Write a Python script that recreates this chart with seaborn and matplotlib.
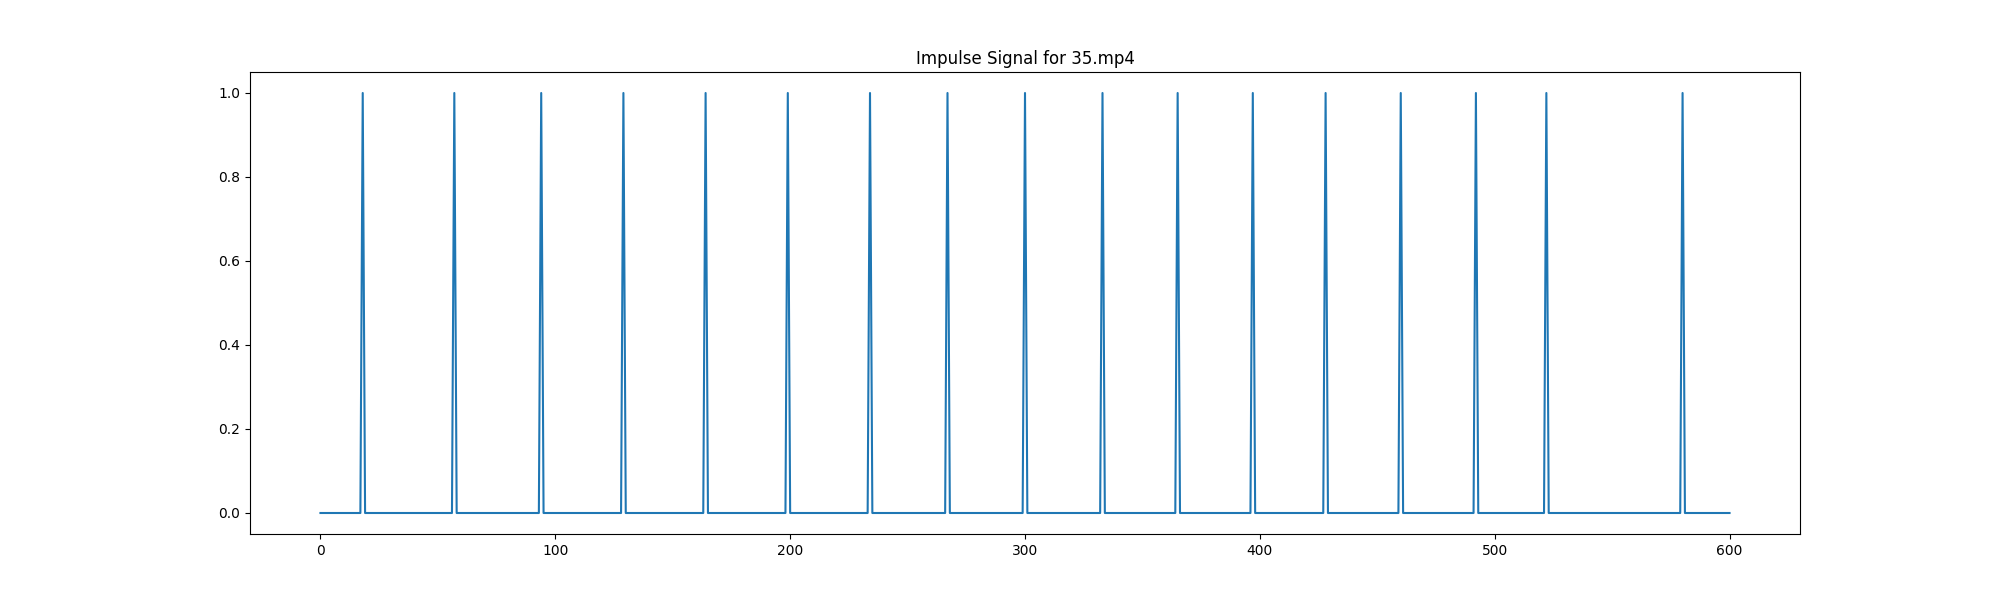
import numpy as np
import pandas as pd
import seaborn as sns
import matplotlib
matplotlib.use("Agg")
import matplotlib.pyplot as plt

video_name = "35.mp4"
# 帧数（0..600）
n_frames = 601
# 脉冲出现的帧号
peak_frames = [18, 57, 94, 129, 164, 199, 234, 267, 300, 333,
               365, 397, 428, 460, 492, 522, 580]

frames = np.arange(n_frames)
impulse = np.zeros(n_frames)
impulse[peak_frames] = 1.0

df = pd.DataFrame({"frame": frames, "impulse": impulse})

fig, ax = plt.subplots(figsize=(20, 6), dpi=100)
sns.lineplot(data=df, x="frame", y="impulse", ax=ax, estimator=None, color="C0")
ax.set_title(f"Impulse Signal for {video_name}")
ax.set_xlabel("")
ax.set_ylabel("")
plt.savefig("out.png", dpi=100)
